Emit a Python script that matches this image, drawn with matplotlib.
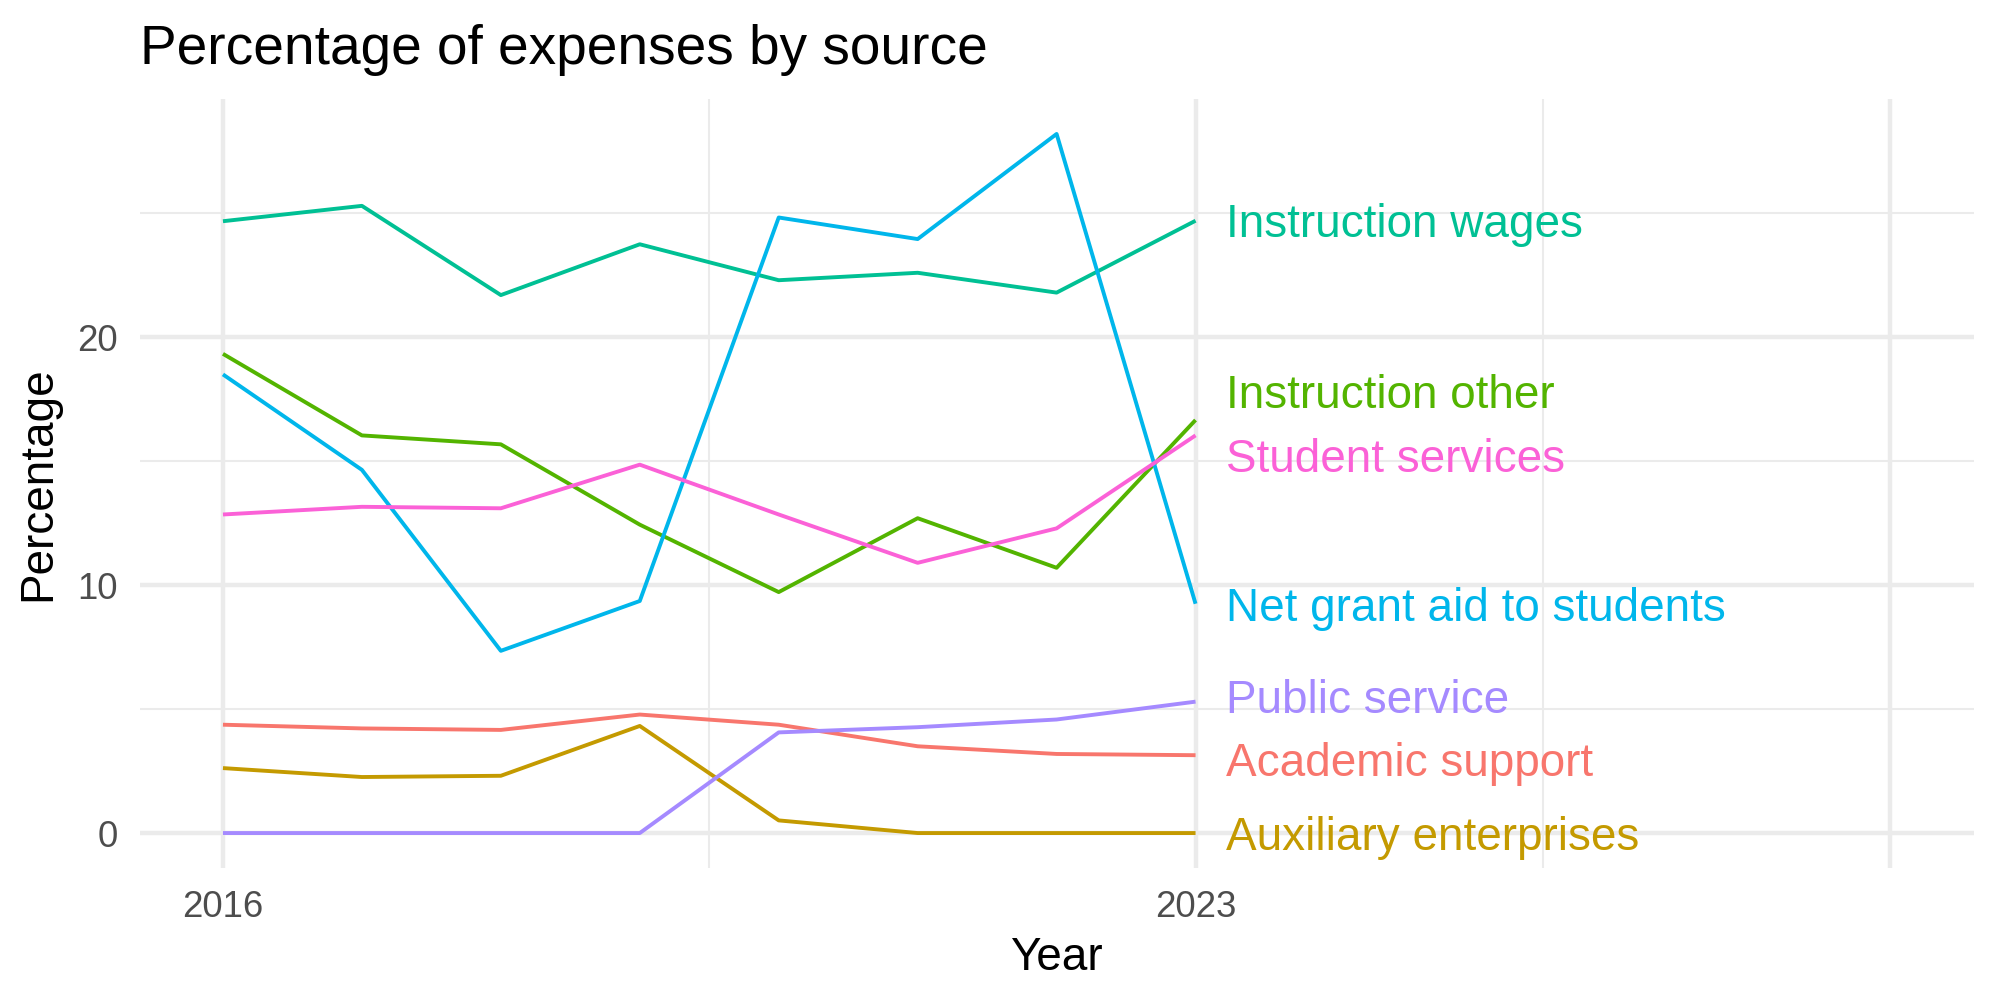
import matplotlib
matplotlib.use("Agg")
import matplotlib.pyplot as plt

years = [2016, 2017, 2018, 2019, 2020, 2021, 2022, 2023]

academic_support = [4.37, 4.22, 4.16, 4.78, 4.37, 3.50, 3.19, 3.14]
auxiliary_enterprises = [2.62, 2.26, 2.31, 4.32, 0.51, 0.0, 0.0, 0.0]
instruction_other = [19.33, 16.04, 15.68, 12.44, 9.72, 12.70, 10.70, 16.66]
instruction_wages = [24.68, 25.30, 21.70, 23.75, 22.30, 22.60, 21.80, 24.70]
net_grant_aid = [18.50, 14.65, 7.35, 9.36, 24.83, 23.96, 28.20, 9.25]
public_service = [0.0, 0.0, 0.0, 0.0, 4.06, 4.27, 4.58, 5.30]
student_services = [12.85, 13.16, 13.10, 14.86, 12.85, 10.90, 12.29, 16.04]

sources = ["Academic support", "Auxiliary enterprises", "Instruction other",
           "Instruction wages", "Net grant aid to students", "Public service",
           "Student services"]
series = [academic_support, auxiliary_enterprises, instruction_other,
          instruction_wages, net_grant_aid, public_service, student_services]
# ggplot hue palette, 7 levels
colors = ["#F8766D", "#C49A00", "#53B400", "#00C094", "#00B6EB", "#A58AFF", "#FB61D7"]
# repelled label heights at the right end (data units)
label_y = [2.98, -0.04, 17.8, 24.7, 9.2, 5.52, 15.24]

plt.rcParams["font.family"] = ["Liberation Sans", "DejaVu Sans"]

fig = plt.figure(figsize=(10, 5), dpi=200)
ax = fig.add_axes([0.0698, 0.132, 0.917, 0.769])

# grid, theme_minimal style
for x in [2019.5, 2025.5]:
    ax.axvline(x, color="#EBEBEB", lw=0.75, zorder=0)
for y in [5, 15, 25]:
    ax.axhline(y, color="#EBEBEB", lw=0.75, zorder=0)
for x in [2016, 2023, 2028]:
    ax.axvline(x, color="#EBEBEB", lw=1.6, zorder=0)
for y in [0, 10, 20]:
    ax.axhline(y, color="#EBEBEB", lw=1.6, zorder=0)

for name, vals, col, ly in zip(sources, series, colors, label_y):
    ax.plot(years, vals, color=col, lw=1.4, zorder=2, solid_capstyle="butt")
    ax.annotate(name, xy=(2023.22, ly), xytext=(0, -5.9), textcoords="offset points",
                color=col, fontsize=16.5, ha="left", va="baseline")

ax.set_xlim(2015.4, 2028.6)
ax.set_ylim(-1.41, 29.61)
ax.set_xticks([2016, 2023])
ax.set_yticks([0, 10, 20])
ax.tick_params(length=0, labelsize=13.2, labelcolor="#4D4D4D", pad=8)
for s in ax.spines.values():
    s.set_visible(False)

ax.set_xlabel("Year", fontsize=16.5, labelpad=4)
ax.set_ylabel("Percentage", fontsize=16.5, labelpad=6)
fig.text(0.0698, 0.936, "Percentage of expenses by source", fontsize=19.8,
         ha="left", va="baseline")

fig.savefig("out.png", dpi=200, facecolor="white")
